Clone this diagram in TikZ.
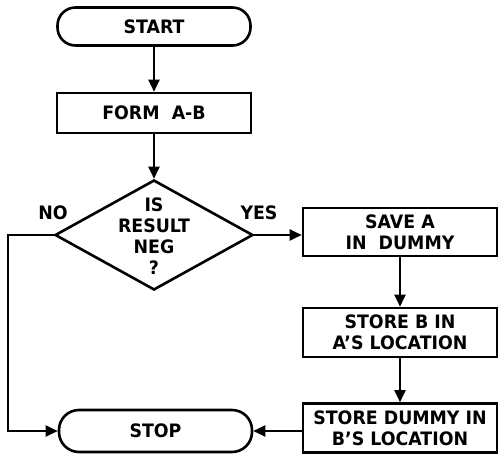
\documentclass[tikz,border=0pt]{standalone}
\usepackage{fontspec}
\setmainfont{DejaVu Sans}[FakeStretch=0.94]
\usetikzlibrary{arrows.meta,shapes.geometric}
\begin{document}
\begin{tikzpicture}[x=1pt,y=-1pt,
  every node/.style={font=\bfseries\fontsize{18.5}{21}\selectfont, inner sep=1pt},
  terminal/.style={draw, line width=2.6pt, rounded corners=18pt, minimum width=193pt, minimum height=38pt},
  procbox/.style={draw, line width=2.6pt, minimum width=194pt, align=center},
  decision/.style={draw, line width=2.6pt, diamond, minimum width=198pt, minimum height=110pt, inner sep=0pt},
  lbl/.style={align=center},
  flow/.style={line width=2pt, -{Triangle[length=12pt,width=11pt]}},
  ]
\useasboundingbox (0,0) rectangle (500,454);
\node[terminal] (start) at (154,26.5) {START};
\node[procbox, minimum height=40pt] (form) at (154,113) {FORM\ \ A-B};
\node[decision] (dec) at (154,235) {};
\node[lbl] (dectext) at (154,236) {IS\\RESULT\\NEG\\?};
\node[lbl] (no) at (53,213) {NO};
\node[lbl] (yes) at (259,213) {YES};
\node[procbox, minimum height=48pt] (save) at (400,232) {SAVE A\\IN\ \ DUMMY};
\node[procbox, minimum height=49pt] (storeb) at (400,332.5) {STORE B IN\\A'S LOCATION};
\node[procbox, minimum height=49pt] (stored) at (400,428) {STORE DUMMY IN\\B'S LOCATION};
\node[terminal, minimum height=42pt, rounded corners=20pt] (stop) at (155.5,431) {STOP};
\draw[flow] (start) -- (form);
\draw[flow] (form) -- (dec.north);
\draw[flow] (dec.east) -- (dec.east -| save.west);
\draw[flow] (save) -- (storeb);
\draw[flow] (storeb) -- (stored);
\draw[flow] (stored.west |- stop.east) -- (stop.east);
\draw[flow] (dec.west) -- ++(-46,0) |- (stop.west);
\end{tikzpicture}
\end{document}
